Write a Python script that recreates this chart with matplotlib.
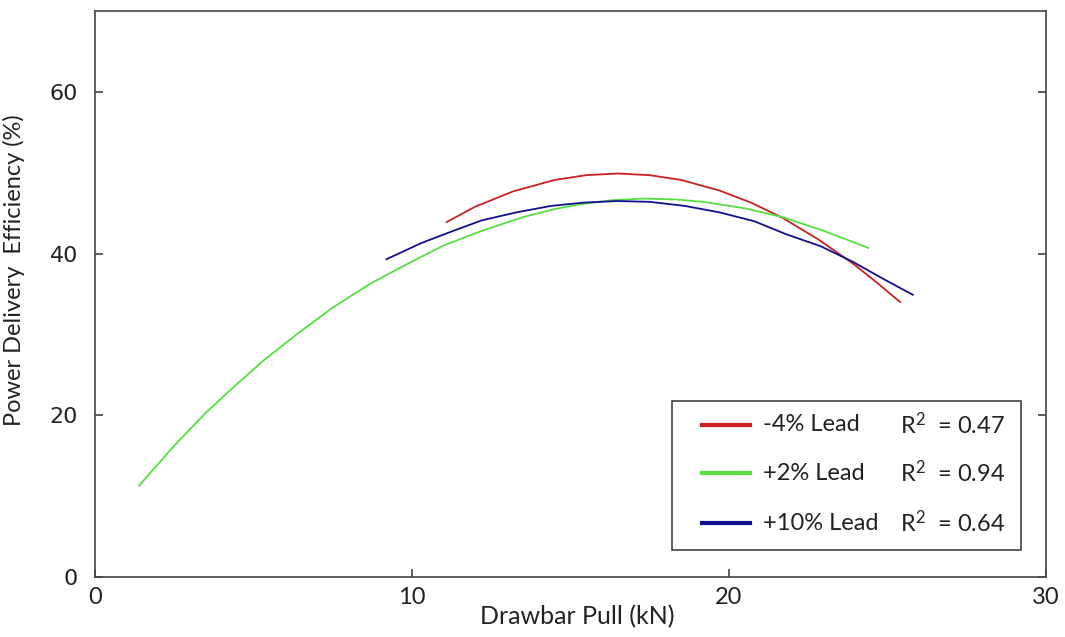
import matplotlib.pyplot as plt
from matplotlib.lines import Line2D
from matplotlib.patches import Rectangle

plt.rcParams["mathtext.fontset"] = "custom"
plt.rcParams["mathtext.rm"] = "Lato"
plt.rcParams["mathtext.it"] = "Lato"

# data
x_minus4 = [11.1, 12.0, 13.2, 14.5, 15.5, 16.5, 17.5, 18.5, 19.7, 20.7, 21.7, 22.8, 23.9, 24.7, 25.4]
y_minus4 = [43.9, 45.8, 47.7, 49.1, 49.7, 49.9, 49.7, 49.1, 47.8, 46.3, 44.4, 41.8, 38.8, 36.3, 34.0]

x_plus2 = [1.4, 2.5, 3.5, 4.3, 5.3, 6.4, 7.5, 8.7, 9.9, 11.0, 12.2, 13.5, 14.5, 15.3, 16.3,
           17.3, 18.3, 19.2, 20.5, 21.7, 23.0, 24.4]
y_plus2 = [11.3, 16.2, 20.3, 23.2, 26.7, 30.1, 33.3, 36.3, 38.8, 41.0, 42.8, 44.5, 45.5, 46.1, 46.6,
           46.8, 46.7, 46.4, 45.6, 44.5, 42.8, 40.7]

x_plus10 = [9.2, 10.3, 11.3, 12.2, 13.3, 14.4, 15.4, 16.5, 17.5, 18.6, 19.7, 20.8, 21.8, 22.9, 23.9, 24.9, 25.8]
y_plus10 = [39.3, 41.3, 42.8, 44.1, 45.1, 45.9, 46.3, 46.5, 46.4, 45.9, 45.1, 44.0, 42.4, 40.9, 39.0, 36.8, 34.9]

labels = ["-4% Lead", "+2% Lead", "+10% Lead"]
r2 = ["0.47", "0.94", "0.64"]
colors = ["#cc2020", "#55e040", "#10108f"]

fig = plt.figure(figsize=(10.65, 6.37), dpi=100)
ax = fig.add_axes([0.0889, 0.0942, 0.8933, 0.8885])

ax.plot(x_minus4, y_minus4, color=colors[0], lw=1.3)
ax.plot(x_plus2, y_plus2, color=colors[1], lw=1.3)
ax.plot(x_plus10, y_plus10, color=colors[2], lw=1.3)

ax.set_xlim(0, 30)
ax.set_ylim(0, 70)
ax.set_xticks([0, 10, 20, 30])
ax.set_yticks([0, 20, 40, 60])

for s in ax.spines.values():
    s.set_color("#444444")
    s.set_linewidth(1.2)

ax.tick_params(axis="y", direction="in", length=5.5, width=1.1, color="#333333",
               right=True, pad=12, labelsize=16, labelcolor="#222222")
ax.tick_params(axis="x", direction="in", length=5.5, width=1.1, color="#333333",
               top=False, pad=7, labelsize=17, labelcolor="#222222")
for t in ax.get_xticklabels():
    t.set_family("Lato")

ax.set_xlabel("Drawbar Pull (kN)", family="Lato", fontsize=18, color="#222222", va="center")
ax.set_ylabel("Power Delivery  Efficiency (%)", family="Lato", fontsize=17, color="#222222")
ax.xaxis.set_label_coords(0.507, -0.07)
ax.yaxis.set_label_coords(-0.073, 0.542)

# legend box drawn by hand
ax.add_patch(Rectangle((0.607, 0.048), 0.367, 0.263, transform=ax.transAxes,
                       facecolor="white", edgecolor="#333333", lw=1.1, zorder=5))
rows_y = [0.2686, 0.1837, 0.0954]
for i in range(3):
    ax.add_line(Line2D([0.638, 0.689], [rows_y[i], rows_y[i]], transform=ax.transAxes,
                       color=colors[i], lw=3, zorder=6))
    ax.text(0.703, rows_y[i], labels[i], transform=ax.transAxes, family="Lato",
            fontsize=17, va="center", ha="left", color="#222222", zorder=6)
    ax.text(0.847, rows_y[i], r"$\mathregular{R^2}$  = " + r2[i], transform=ax.transAxes,
            family="Lato", fontsize=17, va="center", ha="left", color="#222222", zorder=6)

fig.savefig("out.png", dpi=100)
